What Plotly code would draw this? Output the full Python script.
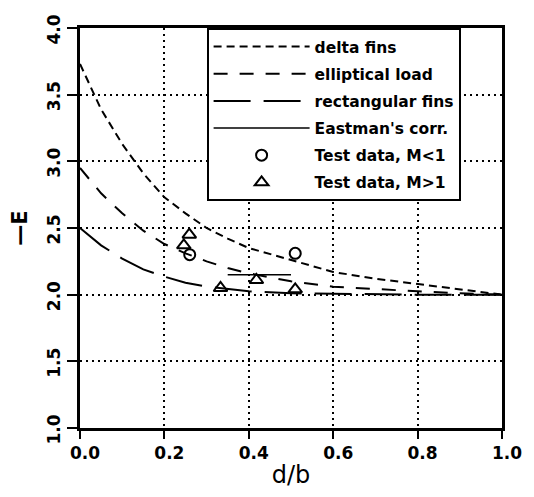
import plotly.graph_objects as go

# ---- data ----
x_curve = [0.0, 0.05, 0.1, 0.15, 0.2, 0.25, 0.3, 0.35, 0.4, 0.5, 0.6, 0.7, 0.8, 0.9, 1.0]
delta_fins = [3.73, 3.39, 3.13, 2.91, 2.73, 2.61, 2.50, 2.42, 2.35, 2.26, 2.17, 2.12, 2.08, 2.04, 2.0]
elliptical_load = [2.95, 2.76, 2.61, 2.48, 2.38, 2.31, 2.25, 2.20, 2.16, 2.10, 2.06, 2.04, 2.025, 2.01, 2.0]
rectangular_fins = [2.50, 2.37, 2.27, 2.19, 2.135, 2.09, 2.06, 2.04, 2.025, 2.01, 2.005, 2.0, 2.0, 2.0, 2.0]

eastman_x = [0.35, 0.50]
eastman_y = [2.15, 2.15]

test_lt1_x = [0.26, 0.51]
test_lt1_y = [2.30, 2.31]

test_gt1_x = [0.246, 0.259, 0.333, 0.418, 0.51]
test_gt1_y = [2.37, 2.45, 2.05, 2.11, 2.04]

x_ticks = [0.0, 0.2, 0.4, 0.6, 0.8, 1.0]
x_tick_labels = ["0.0", "0.2", "0.4", "0.6", "0.8", "1.0"]
y_ticks = [1.0, 1.5, 2.0, 2.5, 3.0, 3.5, 4.0]
y_tick_labels = ["1.0", "1.5", "2.0", "2.5", "3.0", "3.5", "4.0"]

FONT = "DejaVu Sans"

fig = go.Figure()
fig.add_trace(go.Scatter(x=x_curve, y=delta_fins, mode="lines", name="delta fins",
                         line=dict(color="black", width=2, dash="8px,5px"), legendgroup="a"))
fig.add_trace(go.Scatter(x=x_curve, y=elliptical_load, mode="lines", name="elliptical load",
                         line=dict(color="black", width=2, dash="14px,12px"), legendgroup="b"))
fig.add_trace(go.Scatter(x=x_curve, y=rectangular_fins, mode="lines", name="rectangular fins",
                         line=dict(color="black", width=2, dash="37px,13px"), legendgroup="c"))
fig.add_trace(go.Scatter(x=eastman_x, y=eastman_y, mode="lines", name="Eastman's corr.",
                         line=dict(color="black", width=1.5), legendgroup="d"))
fig.add_trace(go.Scatter(x=test_lt1_x, y=test_lt1_y, mode="markers", name="Test data, M<1",
                         marker=dict(symbol="circle-open", size=11, color="black",
                                     line=dict(width=2, color="black")), legendgroup="e"))
fig.add_trace(go.Scatter(x=test_gt1_x, y=test_gt1_y, mode="markers", name="Test data, M>1",
                         marker=dict(symbol="triangle-up-open", size=12, color="black",
                                     line=dict(width=2, color="black")), legendgroup="f"))

axis_common = dict(
    showline=True, linecolor="black", linewidth=3, mirror=True,
    showgrid=True, gridcolor="black", gridwidth=1.5, griddash="2px,4px",
    ticks="outside", tickcolor="black", tickwidth=2,
    zeroline=False, automargin=False,
    tickfont=dict(family=FONT, size=17, color="black", weight="bold"),
)

fig.update_xaxes(range=[0, 1], tickvals=x_ticks, ticktext=x_tick_labels, ticklen=8,
                 ticklabelshift=5,
                 title=dict(text="d/b", font=dict(family=FONT, size=24, color="black"), standoff=4),
                 **axis_common)
fig.update_yaxes(range=[1, 4], tickvals=y_ticks, ticktext=y_tick_labels, ticklen=10,
                 tickangle=-90, ticklabelshift=4,
                 title=dict(text="\u2014E", font=dict(family=FONT, size=21, color="black", weight="bold"),
                            standoff=14),
                 **axis_common)

fig.update_layout(
    width=526, height=489,
    margin=dict(l=72, r=32, t=20, b=69),
    paper_bgcolor="white", plot_bgcolor="white",
    showlegend=True,
    legend=dict(
        x=0.30, y=1.0, xanchor="left", yanchor="top",
        bgcolor="white", bordercolor="black", borderwidth=2,
        font=dict(family=FONT, size=15.5, color="black", weight="bold"),
        itemwidth=96, traceorder="grouped", tracegroupgap=4,
    ),
)

fig.write_html("out.html")
